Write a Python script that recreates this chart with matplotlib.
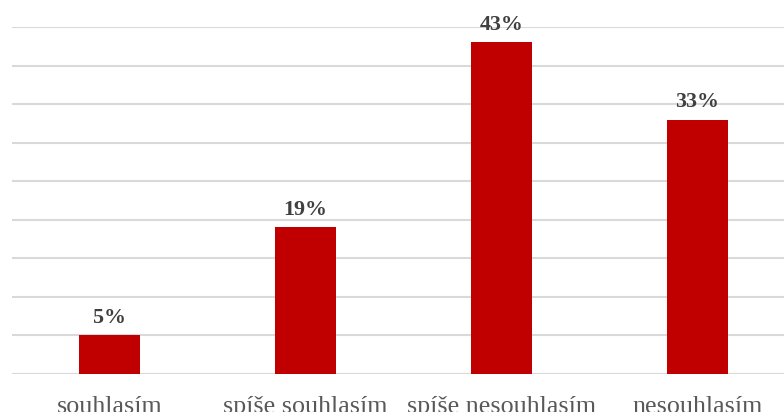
import numpy as np
import matplotlib.pyplot as plt

categories = ['souhlasím', 'spíše souhlasím', 'spíše nesouhlasím', 'nesouhlasím']
values = [5, 19, 43, 33]
labels = ['5%', '19%', '43%', '33%']

W, H = 784, 412
fig = plt.figure(figsize=(W / 100, H / 100), dpi=100)

# axes runs a bit past the right edge, like a cropped office chart
left, right = 11.5 / W, 795.5 / W
bottom, top = (H - 374) / H, (H - 27) / H
ax = fig.add_axes([left, bottom, right - left, top - bottom])

x = np.arange(len(categories))
ax.bar(x, values, width=0.31, color='#c00000', zorder=3)

ax.set_xlim(-0.5, len(categories) - 0.5)
ax.set_ylim(0, 45)
ax.set_yticks(np.arange(0, 46, 5))
ax.yaxis.grid(True, color='#d9d9d9', linewidth=1.5)
ax.tick_params(axis='y', left=False, labelleft=False)
ax.tick_params(axis='x', length=0, pad=16)
for s in ax.spines.values():
    s.set_visible(False)

ax.set_xticks(x)
ax.set_xticklabels(categories, fontfamily='Liberation Serif', fontsize=18.7,
                   color='#595959')

for xi, v, lab in zip(x, values, labels):
    ax.annotate(lab, (xi, v), xytext=(0, 5.5), textcoords='offset points',
                ha='center', va='bottom', fontfamily='Liberation Serif',
                fontweight='bold', fontsize=15.8, color='#404040',
                annotation_clip=False)

fig.savefig('out.png', dpi=100)
